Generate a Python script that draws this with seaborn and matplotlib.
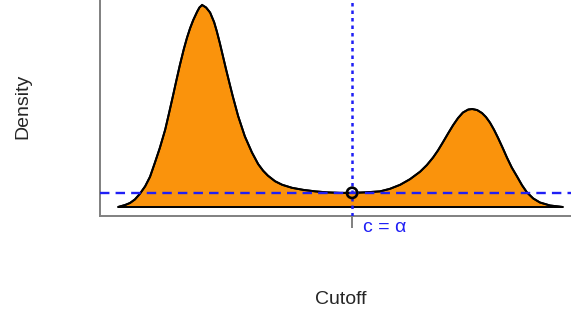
import numpy as np
import pandas as pd
import matplotlib
matplotlib.use("Agg")
import matplotlib.pyplot as plt
import seaborn as sns

# density curve (cutoff, density)
cutoff = [0.00, 0.16, 0.27, 0.38, 0.49, 0.61, 0.72, 0.83, 0.94, 1.06,
          1.15, 1.24, 1.30, 1.39, 1.48, 1.55, 1.62, 1.69, 1.78, 1.83,
          1.89, 1.98, 2.07, 2.16, 2.22, 2.29, 2.36, 2.43, 2.52, 2.58,
          2.70, 2.85, 3.01, 3.15, 3.26, 3.37, 3.53, 3.69, 3.91, 4.16,
          4.43, 4.70, 4.99, 5.26, 5.55, 5.89, 6.11, 6.34, 6.56, 6.79,
          6.94, 7.08, 7.19, 7.30, 7.42, 7.53, 7.64, 7.75, 7.87, 7.96,
          8.07, 8.18, 8.27, 8.36, 8.45, 8.54, 8.65, 8.74, 8.85, 8.97,
          9.08, 9.19, 9.33, 9.48, 9.71, 10.00]
density = [0.000, 0.004, 0.008, 0.015, 0.026, 0.041, 0.060, 0.088, 0.117, 0.153,
           0.187, 0.222, 0.246, 0.281, 0.313, 0.335, 0.354, 0.370, 0.387, 0.395,
           0.400, 0.395, 0.385, 0.366, 0.348, 0.324, 0.298, 0.272, 0.240, 0.219,
           0.180, 0.140, 0.108, 0.085, 0.072, 0.062, 0.051, 0.044, 0.038, 0.034,
           0.031, 0.029, 0.028, 0.028, 0.029, 0.031, 0.036, 0.044, 0.055, 0.070,
           0.083, 0.098, 0.112, 0.128, 0.146, 0.162, 0.176, 0.187, 0.193, 0.194,
           0.192, 0.186, 0.178, 0.167, 0.153, 0.137, 0.116, 0.098, 0.078, 0.060,
           0.043, 0.029, 0.017, 0.009, 0.003, 0.000]

c_alpha = 5.26      # cutoff at the valley
c_density = 0.028   # density at the valley

df = pd.DataFrame({"Cutoff": cutoff, "Density": density})

sns.set_style("white")
plt.rcParams["font.family"] = ["Liberation Sans", "DejaVu Sans"]

fig = plt.figure(figsize=(5.71, 3.17), dpi=100)
# axes runs past the top / right edge like the cropped original
ax = fig.add_axes([100 / 571, 101 / 317, 482 / 571, 220 / 317])

ax.fill(df["Cutoff"], df["Density"], facecolor="#fa930c", edgecolor="black",
        linewidth=1.4, zorder=2)
sns.lineplot(data=df, x="Cutoff", y="Density", color="black", linewidth=1.4,
             sort=False, ax=ax, zorder=3)

blue = "#1f1ff5"
ax.axhline(c_density, color=blue, linewidth=1.7, dashes=(4.0, 2.6), zorder=4)
ax.axvline(c_alpha, color=blue, linewidth=1.8, dashes=(1.4, 1.6), zorder=4)
sns.scatterplot(x=[c_alpha], y=[c_density], marker="o", s=55,
                facecolor="none", edgecolor="black", linewidth=1.9,
                ax=ax, zorder=5)

ax.set_xlim(-0.4045, 10.427)
ax.set_ylim(-0.0178, 0.4178)

ax.set_yticks([])
ax.set_xticks([c_alpha])
ax.set_xticklabels([""])
ax.tick_params(axis="x", length=8.6, width=1.4, color="#808080",
               direction="out", bottom=True)
for side in ["top", "right"]:
    ax.spines[side].set_visible(False)
for side in ["left", "bottom"]:
    ax.spines[side].set_color("#808080")
    ax.spines[side].set_linewidth(1.4)

ax.annotate("c = α", xy=(c_alpha, 0), xycoords=("data", "axes fraction"),
            xytext=(7.9, -11.3), textcoords="offset points",
            ha="left", va="baseline", color=blue, fontsize=14)

ax.set_xlabel("")
ax.set_ylabel("")
fig.text(341 / 571, 13 / 317, "Cutoff", ha="center", va="baseline", fontsize=14)
fig.text(22.5 / 571, 1 - 106 / 317, "Density", ha="center", va="center",
         rotation=90, fontsize=14)

fig.savefig("out.png", dpi=100)
